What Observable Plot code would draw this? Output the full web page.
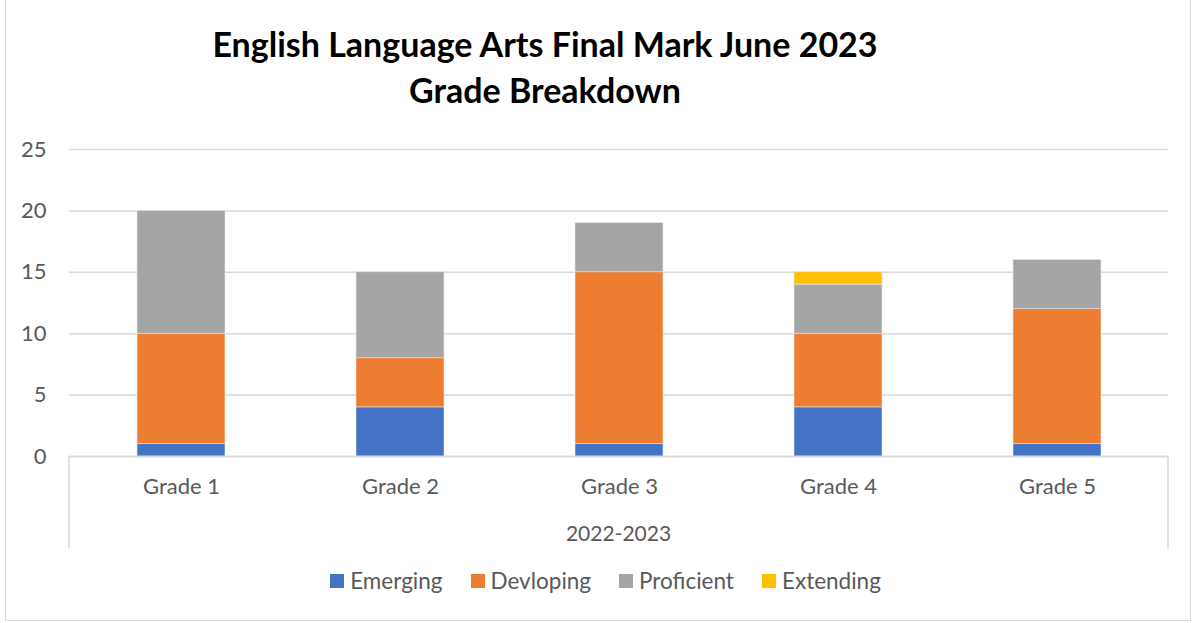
<!DOCTYPE html>
<html>
<head>
<meta charset="utf-8">
<script src="https://cdn.jsdelivr.net/npm/d3@7"></script>
<script src="https://cdn.jsdelivr.net/npm/@observablehq/plot@0.6"></script>
<style>
  html, body { margin: 0; padding: 0; background: #fff; }
  #wrap { position: relative; width: 1194px; height: 623px; overflow: hidden; font-family: Lato, "Open Sans", sans-serif; }
  #border { position: absolute; left: 5px; top: -2px; width: 1186px; height: 623px; border: 1.5px solid #d9d9d9; box-sizing: border-box; z-index: 5; pointer-events: none; }
  #title { position: absolute; left: 0; top: 21px; width: 1090px; text-align: center; font-weight: bold; font-size: 34px; line-height: 46px; color: #000; }
  #chart { position: absolute; left: 0; top: 130px; }
  #legend { position: absolute; left: 0; top: 567px; width: 1211px; display: flex; justify-content: center; gap: 28px; font-size: 22.5px; color: #595959; }
  .item { display: flex; align-items: center; }
  .sw { width: 14px; height: 14px; margin-right: 6px; }
</style>
</head>
<body>
<div id="wrap">
  <div id="border"></div>
  <div id="title">English Language Arts Final Mark June 2023<br>Grade Breakdown</div>
  <div id="chart"></div>
  <div id="legend"></div>
</div>
<script>
const grades = ["Grade 1", "Grade 2", "Grade 3", "Grade 4", "Grade 5"];
const seriesNames = ["Emerging", "Devloping", "Proficient", "Extending"];
const seriesColors = ["#4472C4", "#ED7D31", "#A5A5A5", "#FFC000"];
const emerging   = [1, 4, 1, 4, 1];
const developing = [9, 4, 14, 6, 11];
const proficient = [10, 7, 4, 4, 4];
const extending  = [0, 0, 0, 1, 0];
const yTicks = [0, 5, 10, 15, 20, 25];
const groupLabel = "2022-2023";

const seriesValues = [emerging, developing, proficient, extending];
const rows = [];
seriesNames.forEach((s, si) => {
  grades.forEach((g, gi) => rows.push({grade: g, series: s, value: seriesValues[si][gi]}));
});

const W = 1194, H = 430;
const mL = 69, mR = 26, mT = 19, mB = 104;

const chart = Plot.plot({
  width: W,
  height: H,
  marginLeft: mL,
  marginRight: mR,
  marginTop: mT,
  marginBottom: mB,
  style: {fontFamily: "Lato, 'Open Sans', sans-serif", background: "transparent", overflow: "visible"},
  x: {domain: grades, paddingInner: 0.6, paddingOuter: 0.3, label: null},
  y: {domain: [0, 25], ticks: yTicks, label: null},
  color: {domain: seriesNames, range: seriesColors},
  marks: [
    Plot.gridY(yTicks, {stroke: "#d9d9d9", strokeOpacity: 1, strokeWidth: 1.5}),
    Plot.barY(rows, {x: "grade", y: "value", fill: "series", stroke: "#e8e8e8", strokeWidth: 0.6, order: seriesNames}),
    Plot.ruleY([0], {stroke: "#d9d9d9", strokeWidth: 1.5}),
    Plot.axisY({ticks: yTicks, tickSize: 0, tickPadding: 23, fontSize: 22, fill: "#595959", label: null}),
    Plot.axisX({tickSize: 0, tickPadding: 22, fontSize: 22, fill: "#595959", label: null}),
    (index, scales, values, dims) => {
      const g = d3.create("svg:g");
      const x0 = dims.marginLeft, x1 = dims.width - dims.marginRight;
      const yb = dims.height - dims.marginBottom;
      [x0, x1].forEach(x => g.append("line")
        .attr("x1", x).attr("x2", x).attr("y1", yb).attr("y2", yb + 92)
        .attr("stroke", "#d9d9d9").attr("stroke-width", 1.5));
      g.append("text")
        .attr("x", (x0 + x1) / 2).attr("y", yb + 85)
        .attr("text-anchor", "middle")
        .attr("font-size", 21).attr("fill", "#595959")
        .text(groupLabel);
      return g.node();
    }
  ]
});
document.getElementById("chart").appendChild(chart);

const legend = document.getElementById("legend");
seriesNames.forEach((s, i) => {
  const it = document.createElement("div");
  it.className = "item";
  const sw = document.createElement("div");
  sw.className = "sw";
  sw.style.background = seriesColors[i];
  const t = document.createElement("span");
  t.textContent = s;
  it.appendChild(sw); it.appendChild(t);
  legend.appendChild(it);
});
</script>
</body>
</html>
